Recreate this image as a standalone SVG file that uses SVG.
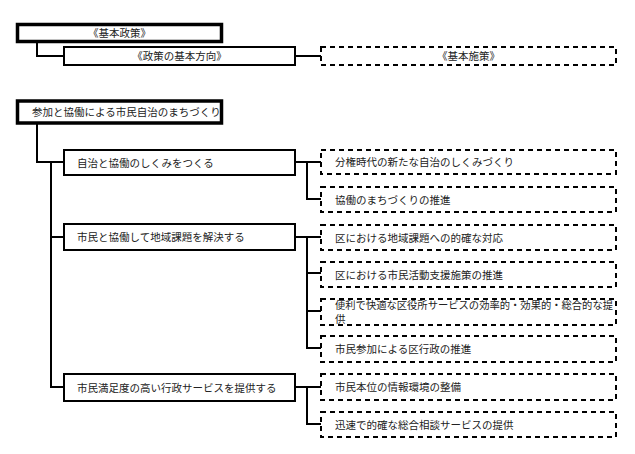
<svg xmlns="http://www.w3.org/2000/svg" width="635" height="454" viewBox="0 0 635 454">
<style>
text{font-family:"Noto Sans CJK JP","Noto Sans CJK SC",sans-serif;font-size:10.5px;fill:#222}
.thick{fill:#fff;stroke:#000;stroke-width:3.5}
.mid{fill:#fff;stroke:#000;stroke-width:2}
.dash{fill:#fff;stroke:#000;stroke-width:2;stroke-dasharray:5 4}
.c{text-anchor:middle}
#connectors path{fill:none;stroke:#000;stroke-width:2}
</style>
<rect width="635" height="454" fill="#fff"/>
<g id="connectors">
<path d="M37 43V56H64"/>
<path d="M295 56H321"/>
<path d="M37 124V162H64"/>
<path d="M51 162V387H64M51 237H64"/>
<path d="M295 162H307V199H321M307 162H321"/>
<path d="M295 237H307V348H321M307 237H321M307 273H321M307 311H321"/>
<path d="M295 387H307V424H321M307 387H321"/>
</g>
<g id="h1"><rect class="thick" x="17.5" y="24.5" width="204" height="17"/><text class="c" x="119.5" y="37">《基本政策》</text></g>
<g id="h2"><rect class="mid" x="64" y="47" width="231" height="18"/><text class="c" x="179.5" y="60">《政策の基本方向》</text></g>
<g id="h3"><rect class="dash" x="321" y="47" width="295" height="18"/><text class="c" x="468.5" y="60">《基本施策》</text></g>
<g id="main"><rect class="thick" x="17.5" y="101" width="204" height="22"/><text x="32" y="116">参加と協働による市民自治のまちづくり</text></g>
<g id="l2a"><rect class="mid" x="64" y="150" width="231" height="25"/><text x="77" y="166.5">自治と協働のしくみをつくる</text></g>
<g id="l2b"><rect class="mid" x="64" y="224" width="231" height="26"/><text x="77" y="241">市民と協働して地域課題を解決する</text></g>
<g id="l2c"><rect class="mid" x="64" y="374" width="231" height="27"/><text x="77" y="391.5">市民満足度の高い行政サービスを提供する</text></g>
<g id="l3a"><rect class="dash" x="321" y="150" width="295" height="24"/><text x="335" y="166">分権時代の新たな自治のしくみづくり</text></g>
<g id="l3b"><rect class="dash" x="321" y="187" width="295" height="25"/><text x="335" y="203.5">協働のまちづくりの推進</text></g>
<g id="l3c"><rect class="dash" x="321" y="225" width="295" height="25"/><text x="335" y="241.5">区における地域課題への的確な対応</text></g>
<g id="l3d"><rect class="dash" x="321" y="262" width="295" height="25"/><text x="335" y="278.5">区における市民活動支援施策の推進</text></g>
<g id="l3e"><rect class="dash" x="321" y="299" width="295" height="26"/><text x="335" y="309" textLength="278" lengthAdjust="spacingAndGlyphs">便利で快適な区役所サービスの効率的・効果的・総合的な提</text><text x="335" y="323">供</text></g>
<g id="l3f"><rect class="dash" x="321" y="336" width="295" height="26"/><text x="335" y="353">市民参加による区行政の推進</text></g>
<g id="l3g"><rect class="dash" x="321" y="374" width="295" height="26"/><text x="335" y="391">市民本位の情報環境の整備</text></g>
<g id="l3h"><rect class="dash" x="321" y="412" width="295" height="25"/><text x="335" y="428.5">迅速で的確な総合相談サービスの提供</text></g>
</svg>
